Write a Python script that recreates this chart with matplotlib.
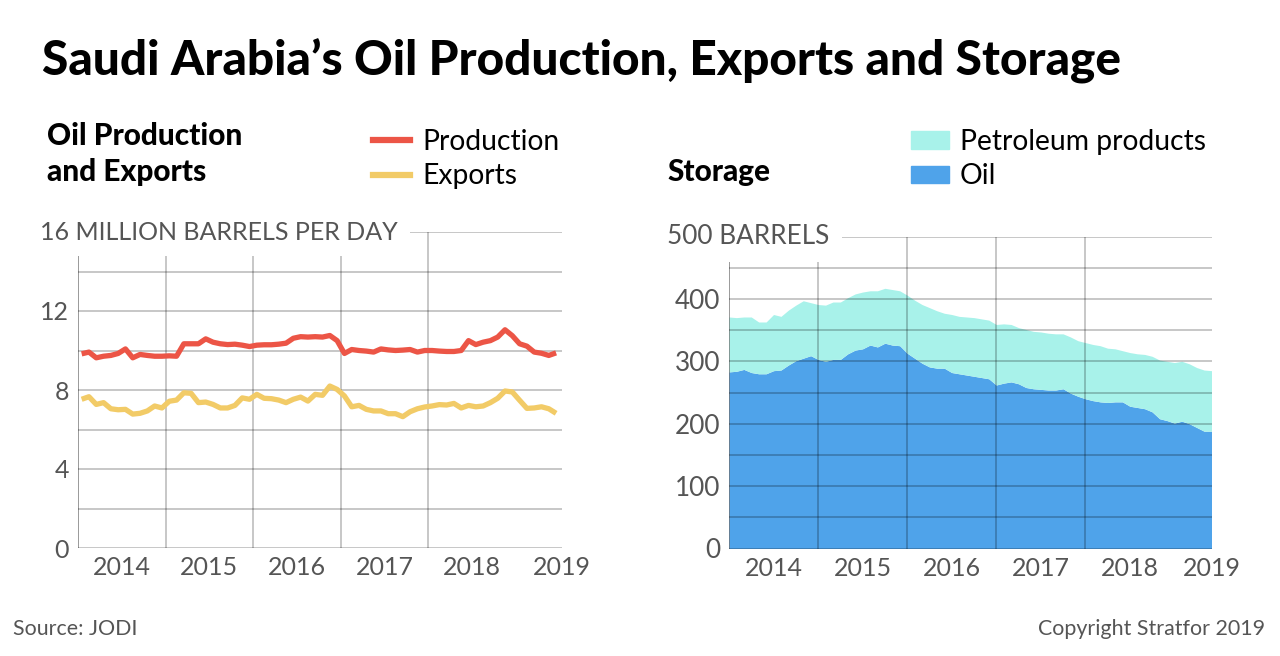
import numpy as np
import matplotlib
matplotlib.use("Agg")
import matplotlib.pyplot as plt
from matplotlib.patches import Patch
from matplotlib.lines import Line2D
from matplotlib.transforms import blended_transform_factory

plt.rcParams['font.family'] = ['Lato', 'DejaVu Sans']

# ---------- data: monthly, Jan 2014 .. Jun 2019 ----------
months = np.arange(66)

production = [9.83, 9.92, 9.63, 9.71, 9.75, 9.85, 10.08, 9.63, 9.80, 9.75, 9.71, 9.71,
              9.73, 9.71, 10.34, 10.34, 10.34, 10.59, 10.42, 10.34, 10.30, 10.32, 10.27, 10.20,
              10.27, 10.29, 10.29, 10.32, 10.37, 10.62, 10.70, 10.68, 10.70, 10.68, 10.76, 10.50,
              9.85, 10.05, 10.00, 9.97, 9.92, 10.08, 10.03, 10.00, 10.02, 10.05, 9.92, 10.00,
              10.00, 9.97, 9.95, 9.95, 10.00, 10.50, 10.30, 10.42, 10.50, 10.68, 11.05, 10.75,
              10.34, 10.22, 9.92, 9.86, 9.75, 9.88]

exports = [7.53, 7.66, 7.27, 7.36, 7.05, 7.00, 7.02, 6.78, 6.82, 6.94, 7.19, 7.09,
           7.43, 7.49, 7.86, 7.83, 7.36, 7.39, 7.27, 7.09, 7.09, 7.22, 7.60, 7.53,
           7.78, 7.58, 7.56, 7.49, 7.36, 7.53, 7.64, 7.44, 7.78, 7.73, 8.20, 8.03,
           7.70, 7.15, 7.22, 7.02, 6.94, 6.94, 6.80, 6.80, 6.65, 6.90, 7.05, 7.14,
           7.19, 7.26, 7.24, 7.32, 7.09, 7.22, 7.15, 7.19, 7.36, 7.58, 7.95, 7.90,
           7.48, 7.07, 7.09, 7.15, 7.05, 6.82]

# total storage (oil + petroleum products), million barrels
storage_total = [371, 370, 371, 371, 363, 363, 375, 372, 382, 390, 397, 394,
                 391, 390, 395, 395, 402, 408, 411, 413, 413, 417, 415, 413,
                 406, 398, 391, 386, 381, 377, 375, 372, 371, 370, 368, 366,
                 359, 360, 359, 354, 351, 348, 347, 345, 344, 344, 339, 333,
                 330, 327, 325, 321, 320, 317, 314, 312, 311, 308, 302, 300,
                 298, 300, 296, 290, 286, 285]

oil_storage = [283, 284, 287, 282, 280, 280, 285, 286, 294, 301, 305, 309,
               303, 300, 303, 303, 312, 318, 320, 326, 323, 329, 326, 325,
               313, 305, 297, 291, 289, 289, 282, 280, 278, 276, 274, 272,
               262, 265, 267, 264, 258, 256, 255, 254, 254, 256, 249, 244,
               240, 237, 235, 234, 235, 235, 228, 226, 224, 219, 208, 205,
               201, 204, 200, 194, 188, 188]

years = [2014, 2015, 2016, 2017, 2018, 2019]
year_labels = ['2014', '2015', '2016', '2017', '2018', '2019']

RED = '#EC5546'
YELLOW = '#F2CB67'
CYAN = '#A8F2EA'
BLUE = '#4FA3EA'
GRAY = '#555555'

fig = plt.figure(figsize=(12.8, 6.56), dpi=100)
W, H = 1280, 656


def fx(px):
    return px / W


def fy(py):
    return 1 - py / H


def style_axes(ax, xmax, ymax, ystep, ylabels, top_text, below, ysize):
    for s in ax.spines.values():
        s.set_visible(False)
    ax.set_xlim(2014, xmax)
    ax.set_ylim(0, ymax)
    ax.set_xticks(years[:-1])
    ax.set_xticks([y + 0.5 for y in years[:-1]] + [xmax], minor=True)
    ax.set_xticklabels([], minor=False)
    ax.set_xticklabels(year_labels, minor=True)
    ax.set_yticks(np.arange(0, ymax + 0.1, ystep))
    ax.set_yticklabels(ylabels)
    ax.tick_params(which='both', length=0, labelsize=18, colors=GRAY)
    ax.tick_params(axis='x', which='minor', pad=6)
    ax.tick_params(axis='y', pad=6.5, labelsize=ysize)
    ax.set_axisbelow(below)
    ax.grid(True, which='major', color='black', alpha=0.28, lw=1.1)
    ax.xaxis.grid(True, which='minor', alpha=0)
    ax.axvline(2014, color='black', alpha=0.28, lw=1.1, zorder=2.5)
    tr = blended_transform_factory(ax.transAxes, ax.transData)
    ax.text(top_text[0], ymax, top_text[1], transform=tr, ha='left', va='center',
            fontsize=ysize, color=GRAY, zorder=5,
            bbox=dict(boxstyle='square,pad=0.5', fc='white', ec='none'))


# ---------- left: production and exports ----------
ax1 = fig.add_axes([fx(78), fy(548), fx(561.5 - 78), fy(232) - fy(548)])
xm = 2014 + (months + 0.5) / 12
ax1.plot(xm, production, color=RED, lw=3.8, solid_capstyle='butt', solid_joinstyle='round')
ax1.plot(xm, exports, color=YELLOW, lw=3.8, solid_capstyle='butt', solid_joinstyle='round')
style_axes(ax1, 2019.52, 16, 2, ['0', '', '4', '', '8', '', '12', '', ''],
           ((40 - 78) / (561.5 - 78), '16 MILLION BARRELS PER DAY'), True, 18)

# ---------- right: storage ----------
ax2 = fig.add_axes([fx(729), fy(548.5), fx(1211.5 - 729), fy(236.5) - fy(548.5)])
xs = 2014 + months / 12
ax2.fill_between(xs, 0, oil_storage, color=BLUE, lw=0, zorder=1)
ax2.fill_between(xs, oil_storage, storage_total, color=CYAN, lw=0, zorder=1)
style_axes(ax2, xs[-1], 500, 50, ['0', '', '100', '', '200', '', '300', '', '400', '', ''],
           ((667 - 729) / (1211.5 - 729), '500 BARRELS'), False, 18.8)

# ---------- titles ----------
fig.text(fx(42), fy(76), 'Saudi Arabia’s Oil Production, Exports and Storage',
         fontsize=34.4, fontweight='black', color='black', va='baseline')
fig.text(fx(47), fy(145), 'Oil Production', fontsize=21.4, fontweight='black', va='baseline')
fig.text(fx(47), fy(181), 'and Exports', fontsize=21.4, fontweight='black', va='baseline')
fig.text(fx(667), fy(181), 'Storage', fontsize=21.4, fontweight='black', va='baseline')

# ---------- legends ----------
fig.legend(handles=[Line2D([], [], color=RED, lw=4.5), Line2D([], [], color=YELLOW, lw=4.5)],
           labels=['Production', 'Exports'], loc='upper left',
           bbox_to_anchor=(fx(373), fy(129)), frameon=False, fontsize=20.3,
           handlelength=1.3, handletextpad=0.45, labelspacing=0.3,
           borderpad=0, borderaxespad=0)
fig.legend(handles=[Patch(color=CYAN), Patch(color=BLUE)],
           labels=['Petroleum products', 'Oil'], loc='upper left',
           bbox_to_anchor=(fx(911), fy(129)), frameon=False, fontsize=20.3,
           handlelength=1.35, handleheight=0.57, handletextpad=0.38, labelspacing=0.3,
           borderpad=0, borderaxespad=0)

# ---------- footer ----------
fig.text(fx(13), fy(629), 'Source: JODI', fontsize=15.4, color=GRAY, va='center')
fig.text(fx(1265), fy(629), 'Copyright Stratfor 2019', fontsize=15.4, color=GRAY,
         va='center', ha='right')

fig.savefig('out.png', dpi=100)
